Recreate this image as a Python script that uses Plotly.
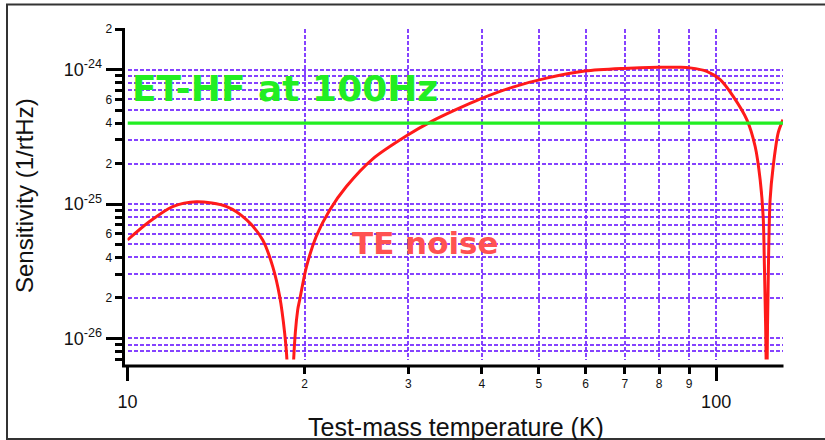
import math
import plotly.graph_objects as go

# ---------------- data ----------------
temperature_K = [10.0, 10.9, 11.93, 13.1, 14.74, 15.94, 16.97, 17.65, 18.14, 18.49, 18.66, 18.9,
                 19.15, 19.46, 19.61, 20.14, 20.94, 22.06, 23.54, 26.11, 29.79, 32.86, 36.13,
                 39.69, 45.16, 51.5, 59.85, 69.5, 79.7, 86.9, 90.3, 96.4, 101.6, 106.9, 112.8,
                 116.5, 118.8, 120.2, 120.8, 121.6, 121.9, 122.1, 122.7, 123.5, 125.0, 127.5, 129.9]
te_noise = [5.40e-26, 7.40e-26, 9.57e-26, 1.04e-25, 9.57e-26, 7.62e-26, 5.40e-26, 3.42e-26,
            2.04e-26, 1.10e-26, 6.8e-27, 1e-28, 6.8e-27, 1.63e-26, 1.93e-26, 3.42e-26, 5.79e-26,
            9.03e-26, 1.35e-25, 2.17e-25, 3.22e-25, 4.12e-25, 5.03e-25, 6.03e-25, 7.41e-25,
            8.64e-25, 9.75e-25, 1.02e-24, 1.04e-24, 1.04e-24, 1.03e-24, 9.71e-25, 8.42e-25,
            6.33e-25, 4.23e-25, 2.68e-25, 1.51e-25, 8.05e-26, 3.42e-26, 6.9e-27, 1e-28, 6.9e-27,
            3.42e-26, 1.07e-25, 1.90e-25, 3.39e-25, 4.24e-25]

et_hf_T = [10.0, 129.9]
et_hf_level = [4e-25, 4e-25]

x_range_K = [10.0, 129.9]
y_range = [7e-27, 2e-24]

y_small_tickvals = [2e-26, 4e-26, 6e-26, 2e-25, 4e-25, 6e-25, 2e-24]
y_small_ticktext = ["2", "4", "6", "2", "4", "6", "2"]
y_minor_tickvals = [7e-27, 8e-27, 9e-27, 1e-26, 3e-26, 5e-26, 7e-26, 8e-26, 9e-26,
                    1e-25, 3e-25, 5e-25, 7e-25, 8e-25, 9e-25, 1e-24]
y_decade_tickvals = [1e-26, 1e-25, 1e-24]
y_decade_ticktext = ["10<sup>-26</sup>", "10<sup>-25</sup>", "10<sup>-24</sup>"]

x_small_tickvals = [20, 30, 40, 50, 60, 70, 80, 90]
x_small_ticktext = ["2", "3", "4", "5", "6", "7", "8", "9"]
x_decade_tickvals = [10, 100]
x_decade_ticktext = ["10", "100"]

# ---------------- geometry helpers ----------------
W_FIG, H_FIG = 825, 440
ML, MR, MT, MB = 120, 42, 29, 70
PW = W_FIG - ML - MR
PH = H_FIG - MT - MB


def fx(px):
    return (px - ML) / PW


def fy(py):
    return 1 - (py - MT) / PH


GRID = "rgba(120,45,255,0.9)"
GDASH = "4px,2px"
GW = 1.5
FONT = "Liberation Sans, Arial, sans-serif"
xr = [math.log10(v) for v in x_range_K]
yr = [math.log10(y_range[0]) - 0.002, math.log10(y_range[1]) + 0.001]

fig = go.Figure()
fig.add_trace(go.Scatter(x=temperature_K, y=te_noise, mode="lines",
                         line=dict(color="#ff1a1a", width=3, shape="spline", smoothing=0.8),
                         showlegend=False, hoverinfo="skip"))
fig.add_trace(go.Scatter(x=et_hf_T, y=et_hf_level, mode="lines",
                         line=dict(color="#22ee22", width=3.2), showlegend=False,
                         hoverinfo="skip"))
fig.add_trace(go.Scatter(x=[], y=[], xaxis="x2", yaxis="y2", showlegend=False))

common = dict(type="log", showline=False, zeroline=False, ticks="outside",
              tickcolor="#000", tickwidth=2.5)

fig.update_layout(
    width=W_FIG, height=H_FIG,
    margin=dict(l=ML, r=MR, t=MT, b=MB),
    paper_bgcolor="white", plot_bgcolor="white",
    xaxis=dict(**common, range=xr, domain=[fx(127.5), 1], anchor="free", position=fy(366),
               tickmode="array", tickvals=x_small_tickvals, ticktext=x_small_ticktext,
               ticklen=7, tickfont=dict(family=FONT, size=12, color="#111"),
               showgrid=True, gridcolor=GRID, griddash=GDASH, gridwidth=GW,
               minor=dict(tickmode="array", tickvals=x_decade_tickvals, ticks="outside",
                          ticklen=7, tickcolor="#000", tickwidth=2.5,
                          showgrid=True, gridcolor=GRID, griddash=GDASH, gridwidth=GW)),
    xaxis2=dict(**common, range=xr, domain=[fx(127.5), 1], anchor="free", position=fy(366),
                overlaying="x", tickmode="array", tickvals=x_decade_tickvals,
                ticktext=x_decade_ticktext, ticklen=14, showgrid=False, ticklabelstandoff=5,
                tickfont=dict(family=FONT, size=18, color="#111")),
    yaxis=dict(**common, range=yr, domain=[fy(359.5), 1], anchor="free", position=fx(123.5),
               tickmode="array", tickvals=y_small_tickvals, ticktext=y_small_ticktext,
               ticklen=9, tickfont=dict(family=FONT, size=12, color="#111"),
               showgrid=True, gridcolor=GRID, griddash=GDASH, gridwidth=GW,
               minor=dict(tickmode="array", tickvals=y_minor_tickvals, ticks="outside",
                          ticklen=9, tickcolor="#000", tickwidth=2.5,
                          showgrid=True, gridcolor=GRID, griddash=GDASH, gridwidth=GW)),
    yaxis2=dict(**common, range=yr, domain=[fy(359.5), 1], anchor="free", position=fx(123.5),
                overlaying="y", tickmode="array", tickvals=y_decade_tickvals,
                ticktext=y_decade_ticktext, ticklen=18, showgrid=False,
                tickfont=dict(family=FONT, size=18, color="#111")),
    shapes=[
        dict(type="path", xref="paper", yref="paper",
             path=f"M {fx(123.5)},{fy(28)} L {fx(123.5)},{fy(366)} L {fx(783.5)},{fy(366)}",
             line=dict(color="#000", width=3)),
        dict(type="path", xref="paper", yref="paper",
             path=f"M {fx(830)},{fy(4.5)} L {fx(7)},{fy(4.5)} L {fx(7)},{fy(439)} L {fx(830)},{fy(439)}",
             line=dict(color="#333", width=2)),
    ],
    annotations=[
        dict(text="<b>ET-HF at 100Hz</b>", xref="paper", yref="paper", x=fx(285), y=fy(88),
             xanchor="center", yanchor="middle", showarrow=False,
             font=dict(family="DejaVu Sans", size=36, color="#22ee22")),
        dict(text="<b>TE noise</b>", xref="paper", yref="paper", x=fx(425), y=fy(243),
             xanchor="center", yanchor="middle", showarrow=False,
             font=dict(family="DejaVu Sans", size=31, color="#ff5252")),
        dict(text="Test-mass temperature (K)", xref="paper", yref="paper", x=fx(455.5), y=fy(427),
             xanchor="center", yanchor="middle", showarrow=False,
             font=dict(family=FONT, size=25, color="#111")),
        dict(text="Sensitivity (1/rtHz)", xref="paper", yref="paper", x=fx(24), y=fy(195),
             xanchor="center", yanchor="middle", showarrow=False, textangle=-90,
             font=dict(family=FONT, size=24, color="#111")),
    ],
)

fig.write_html("out.html")
